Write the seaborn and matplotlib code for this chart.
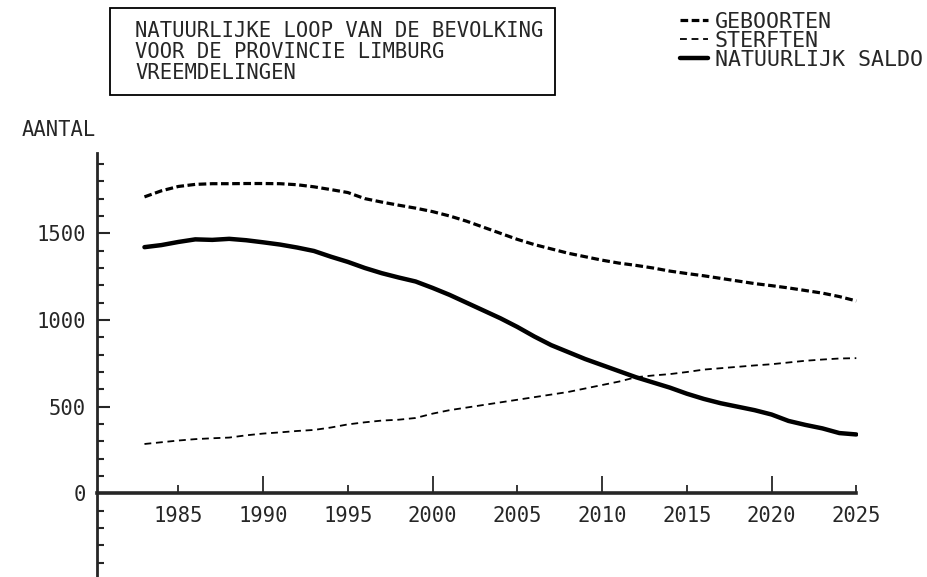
import numpy as np
import pandas as pd
import matplotlib
matplotlib.use("Agg")
import matplotlib.pyplot as plt
import seaborn as sns
from matplotlib.patches import Rectangle
from matplotlib.ticker import MultipleLocator, FixedLocator

# years 1983 - 2025
years = list(range(1983, 2026))
geboorten = [1710, 1745, 1770, 1782, 1786, 1786, 1787, 1787, 1786, 1780,
             1768, 1752, 1735, 1700, 1680, 1662, 1645, 1625, 1600, 1570,
             1535, 1500, 1465, 1435, 1410, 1385, 1365, 1345, 1328, 1315,
             1300, 1282, 1268, 1255, 1240, 1225, 1210, 1198, 1185, 1170,
             1155, 1135, 1110]
sterften = [285, 295, 305, 313, 318, 322, 335, 345, 352, 360,
            366, 380, 398, 410, 420, 425, 435, 460, 480, 495,
            510, 525, 540, 555, 570, 585, 605, 625, 645, 670,
            680, 688, 700, 714, 722, 730, 738, 745, 755, 765,
            772, 778, 780]
saldo = [1420, 1432, 1450, 1465, 1462, 1468, 1460, 1448, 1435, 1418,
         1398, 1365, 1335, 1300, 1270, 1245, 1222, 1185, 1145, 1100,
         1055, 1010, 960, 905, 855, 815, 775, 740, 705, 670,
         640, 610, 575, 545, 520, 500, 480, 455, 418, 395,
         375, 348, 340]

title_lines = ["NATUURLIJKE LOOP VAN DE BEVOLKING",
               "VOOR DE PROVINCIE LIMBURG",
               "VREEMDELINGEN"]
labels = ["GEBOORTEN", "STERFTEN", "NATUURLIJK SALDO"]

df = pd.DataFrame({"jaar": years, "geb": geboorten, "sterf": sterften, "saldo": saldo})

sns.set_style("white")
plt.rcParams["font.family"] = ["DejaVu Sans Mono"]
FS = 14.8

W, H = 927, 577
fig = plt.figure(figsize=(W / 100, H / 100), dpi=100)
ax = fig.add_axes([97 / W, 0.0, (858 - 97) / W, (577 - 153) / H])

sns.lineplot(data=df, x="jaar", y="geb", ax=ax, color="black", lw=2.3,
             label=labels[0])
ax.lines[-1].set_dashes((2.4, 1.1))
sns.lineplot(data=df, x="jaar", y="sterf", ax=ax, color="black", lw=1.3,
             label=labels[1])
ax.lines[-1].set_dashes((3.8, 2.6))
sns.lineplot(data=df, x="jaar", y="saldo", ax=ax, color="black", lw=3.2,
             label=labels[2])

ax.set_xlim(1980.2, 2025.1)
ax.set_ylim(-482, 1963)

# axes drawn like the old plotter: y axis at left, x axis through zero
for s in ["top", "right"]:
    ax.spines[s].set_visible(False)
ax.spines["left"].set_linewidth(2.0)
ax.spines["bottom"].set_position(("data", 0))
ax.spines["bottom"].set_linewidth(2.6)
ax.spines["bottom"].set_bounds(1980.2, 2025)

ax.yaxis.set_minor_locator(MultipleLocator(100))
ax.set_yticks([0, 500, 1000, 1500])
ax.set_yticklabels(["0", "500", "1000", "1500"])
ax.tick_params(axis="y", which="major", direction="in", length=9.5, width=1.5,
               pad=8, labelsize=FS, left=True)
ax.tick_params(axis="y", which="minor", direction="in", length=5, width=1.5, left=True)

ax.xaxis.set_major_locator(FixedLocator([1990, 2000, 2010, 2020]))
ax.xaxis.set_minor_locator(FixedLocator([1985, 1995, 2005, 2015, 2025]))
ax.set_xticklabels(["1990", "2000", "2010", "2020"])
ax.set_xticklabels(["1985", "1995", "2005", "2015", "2025"], minor=True)
ax.tick_params(axis="x", which="major", direction="in", length=12, width=1.3,
               pad=9, labelsize=FS, bottom=True)
ax.tick_params(axis="x", which="minor", direction="in", length=6, width=1.3,
               pad=9, labelsize=FS, bottom=True)
ax.set_xlabel("")
ax.set_ylabel("")

fig.text(22 / W, 1 - 130 / H, "AANTAL", fontsize=FS, va="center", ha="left")

# title box
fig.patches.append(Rectangle((110 / W, 1 - 95 / H), (555 - 110) / W, (95 - 8) / H,
                             transform=fig.transFigure, fill=False,
                             edgecolor="black", lw=1.3))
fig.text(135 / W, 1 - 21 / H, "\n".join(title_lines), fontsize=FS,
         va="top", ha="left", linespacing=1.05)

leg = ax.legend(loc="upper left", bbox_to_anchor=(680 / W, 1 - 12 / H),
                bbox_transform=fig.transFigure, frameon=False, fontsize=15.6,
                handlelength=1.28, handletextpad=0.32, borderpad=0,
                borderaxespad=0, labelspacing=-0.05)

fig.savefig("out.png", dpi=100)
